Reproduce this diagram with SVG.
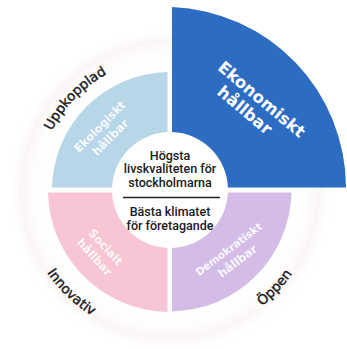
<svg xmlns="http://www.w3.org/2000/svg" width="347" height="349" viewBox="0 0 347 349">
<defs>
<radialGradient id="halo" cx="170" cy="190" r="162" gradientUnits="userSpaceOnUse">
<stop offset="0" stop-color="#ffffff" stop-opacity="0"/>
<stop offset="0.76" stop-color="#ffffff" stop-opacity="0"/>
<stop offset="0.92" stop-color="#fbf6f5" stop-opacity="1"/>
<stop offset="1" stop-color="#ffffff" stop-opacity="0"/>
</radialGradient>
<path id="arcTop" d="M40.4,215.2 A132,132 0 0 1 190.6,59.6"/>
<path id="arcInn" d="M23.8,166.9 A148,148 0 0 0 198.2,335.3"/>
<path id="arcOpp" d="M149.4,336.6 A148,148 0 0 0 314.8,159.2"/>
</defs>
<style>
.q{font-family:"DejaVu Sans","Liberation Sans",sans-serif;font-weight:bold;fill:#ffffff;text-anchor:middle}
.qs{font-size:11.5px;fill-opacity:0.88}
.qb{font-size:16.5px}
.c{font-family:Roboto,"Noto Sans","Liberation Sans",sans-serif;font-weight:500;font-size:12.5px;fill:#1a1a1a;text-anchor:middle}
.o{font-family:"DejaVu Sans","Liberation Sans",sans-serif;font-size:13.5px;fill:#1a1a1a;stroke:#1a1a1a;stroke-width:0.4;text-anchor:middle}
</style>
<rect width="347" height="349" fill="#ffffff"/>
<circle cx="170" cy="190" r="162" fill="url(#halo)"/>

<g id="ekologiskt">
<path d="M52.03,187.5 A118,118 0 0 1 167.5,72.03 L167.5,132.05 A58,58 0 0 0 112.05,187.5 Z" fill="#b7d6e8"/>
<g transform="translate(105,132) rotate(-45)">
<text class="q qs" x="0" y="-3.5">Ekologiskt</text>
<text class="q qs" x="0" y="11.5">hållbar</text>
</g>
</g>

<g id="ekonomiskt">
<path d="M172,7.1 A181,181 0 0 1 346,187.5 L227.95,187.5 A58,58 0 0 0 172,132.03 Z" fill="#2d6cc3"/>
<g transform="translate(256,106) rotate(40)">
<text class="q qb" x="0" y="-3">Ekonomiskt</text>
<text class="q qb" x="-6" y="16">hållbar</text>
</g>
</g>

<g id="socialt">
<path d="M48.03,192.5 A122,122 0 0 0 167.5,311.97 L167.5,247.95 A58,58 0 0 1 112.05,192.5 Z" fill="#f7c5d3"/>
<g transform="translate(100,252) rotate(48)">
<text class="q qs" x="0" y="-3.5">Socialt</text>
<text class="q qs" x="0" y="11.5">hållbar</text>
</g>
</g>

<g id="demokratiskt">
<path d="M172,311.48 A121.5,121.5 0 0 0 291.47,192.5 L227.95,192.5 A58,58 0 0 1 172,247.97 Z" fill="#d3bde7"/>
<g transform="translate(233,255) rotate(-37)">
<text class="q qs" x="0" y="-3.5" style="font-size:10.5px">Demokratiskt</text>
<text class="q qs" x="0" y="11.5">hållbar</text>
</g>
</g>

<g id="center">
<text class="c" x="170" y="159.5">Högsta</text>
<text class="c" x="170" y="173">livskvaliteten för</text>
<text class="c" x="170" y="186.5">stockholmarna</text>
<text class="c" x="170" y="216">Bästa klimatet</text>
<text class="c" x="170" y="229.5">för företagande</text>
</g>

<g id="connectors">
<line x1="123" y1="197.5" x2="220" y2="197.5" stroke="#222222" stroke-width="1.6"/>
</g>

<g id="label-uppkopplad">
<text class="o"><textPath href="#arcTop" startOffset="50%">Uppkopplad</textPath></text>
</g>
<g id="label-innovativ">
<text class="o"><textPath href="#arcInn" startOffset="50%">Innovativ</textPath></text>
</g>
<g id="label-oppen">
<text class="o"><textPath href="#arcOpp" startOffset="50%">Öppen</textPath></text>
</g>
</svg>
